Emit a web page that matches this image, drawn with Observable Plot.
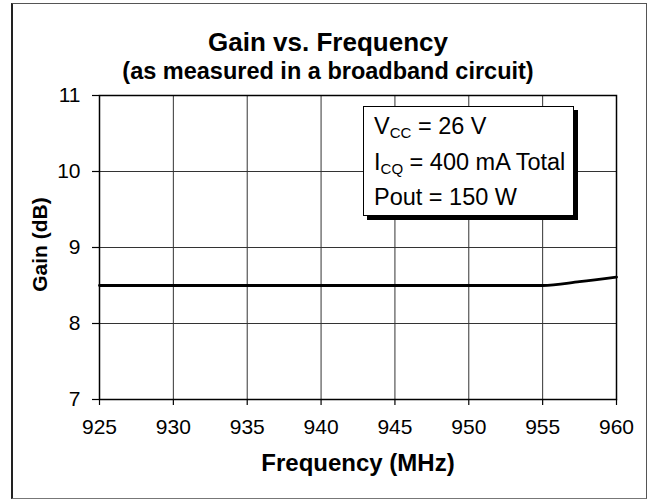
<!DOCTYPE html>
<html>
<head>
<meta charset="utf-8">
<script src="https://cdn.jsdelivr.net/npm/d3@7"></script>
<script src="https://cdn.jsdelivr.net/npm/@observablehq/plot@0.6"></script>
<style>
  html, body { margin: 0; padding: 0; background: #fff; }
  #wrap { position: relative; width: 648px; height: 500px; overflow: hidden; font-family: "Liberation Sans", Arial, sans-serif; }
  #outer { position: absolute; left: 11px; top: 3px; width: 633px; height: 494px; border: 1px solid #555; border-left: 2px solid #222; border-bottom: 1px solid #777; }
  #chart { position: absolute; left: 0; top: 0; }
  .ttl { position: absolute; left: 11px; width: 634px; text-align: center; font-weight: bold; color: #000; white-space: nowrap; }
  #legend { position: absolute; left: 363px; top: 106px; width: 209px; height: 108px; border: 1.5px solid #000; background: #fff; box-shadow: 4px 4px 0 #000; }
  .ln { position: absolute; left: 374px; font-size: 23.5px; line-height: 23.5px; color: #000; white-space: nowrap; }
  .ln sub { font-size: 64%; vertical-align: -0.28em; line-height: 0; }
</style>
</head>
<body>
<div id="wrap">
  <div id="outer"></div>
  <div id="chart"></div>
  <div class="ttl" id="t1" style="top:29px;font-size:26px;line-height:26px;"></div>
  <div class="ttl" id="t2" style="top:60px;font-size:23.5px;line-height:23.5px;"></div>
  <div id="legend"></div>
  <div class="ln" id="l1" style="top:115px;"></div>
  <div class="ln" id="l2" style="top:151px;"></div>
  <div class="ln" id="l3" style="top:186px;"></div>
</div>
<script>
// ---- data ----
const freq = [925, 930, 935, 940, 945, 950, 955, 957.5, 960];
const gain = [8.5, 8.5, 8.5, 8.5, 8.5, 8.5, 8.5, 8.55, 8.61];
const xTicks = [925, 930, 935, 940, 945, 950, 955, 960];
const yTicks = [7, 8, 9, 10, 11];
const titleText = "Gain vs. Frequency";
const subtitleText = "(as measured in a broadband circuit)";
const xLabel = "Frequency (MHz)";
const yLabel = "Gain (dB)";
const legendLines = [
  ["V", "CC", " = 26 V"],
  ["I", "CQ", " = 400 mA Total"],
  ["Pout = 150 W", "", ""]
];

const rows = freq.map((f, i) => ({f, g: gain[i]}));

const chart = Plot.plot({
  width: 648,
  height: 500,
  marginLeft: 99,
  marginRight: 32,
  marginTop: 95,
  marginBottom: 101,
  style: {fontFamily: "'Liberation Sans', Arial, sans-serif", fontSize: "21px", background: "transparent", color: "#000", overflow: "visible"},
  x: {domain: [925, 960]},
  y: {domain: [7, 11]},
  marks: [
    Plot.gridX(xTicks, {stroke: "#333", strokeOpacity: 1, strokeWidth: 1}),
    Plot.gridY(yTicks, {stroke: "#333", strokeOpacity: 1, strokeWidth: 1}),
    Plot.frame({stroke: "#000", strokeWidth: 1.5}),
    Plot.axisX(xTicks, {tickSize: 6, tickPadding: 14, fontSize: 21, label: null, tickFormat: d => String(d), stroke: "#000", strokeWidth: 1.2}),
    Plot.axisY(yTicks, {tickSize: 7, tickPadding: 12, fontSize: 21, label: null, tickFormat: d => String(d), stroke: "#000", strokeWidth: 1.2}),
    Plot.text([xLabel], {frameAnchor: "bottom", lineAnchor: "middle", textAnchor: "middle", dy: 64, fontSize: 24, fontWeight: "bold", fill: "#000"}),
    Plot.text([yLabel], {frameAnchor: "left", lineAnchor: "middle", textAnchor: "middle", dx: -59, dy: -3, rotate: -90, fontSize: 21, fontWeight: "bold", fill: "#000"}),
    Plot.line(rows, {x: "f", y: "g", stroke: "#000", strokeWidth: 2.8, curve: "monotone-x"})
  ]
});
document.getElementById("chart").appendChild(chart);

document.getElementById("t1").textContent = titleText;
document.getElementById("t2").textContent = subtitleText;
legendLines.forEach((parts, i) => {
  const el = document.getElementById("l" + (i + 1));
  el.appendChild(document.createTextNode(parts[0]));
  if (parts[1]) {
    const s = document.createElement("sub");
    s.textContent = parts[1];
    el.appendChild(s);
  }
  if (parts[2]) el.appendChild(document.createTextNode(parts[2]));
});
</script>
</body>
</html>
